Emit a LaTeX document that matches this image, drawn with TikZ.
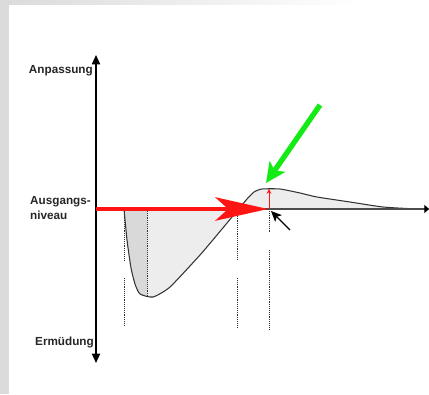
\documentclass[tikz,border=0pt]{standalone}
\usepackage{fontspec}
\setmainfont{Liberation Sans}
\usetikzlibrary{arrows.meta}
\definecolor{brightgreen}{RGB}{20,235,20}
\definecolor{brightred}{RGB}{255,20,20}
\begin{document}
\begin{tikzpicture}[x=0.03cm,y=-0.03cm,
  lbl/.style={font=\bfseries\fontsize{10}{12}\selectfont, text=black!85, inner sep=0pt},
  curveline/.style={black!80, line width=0.9pt, line join=round},
  guide/.style={densely dotted, line width=0.6pt, black!80},
  axis/.style={line width=1.2pt, black},
]
\useasboundingbox (0,0) rectangle (429,394);
\fill[white] (0,0) rectangle (429,394);
\fill[gray!28] (0,0) rectangle (9,394);
\shade[left color=gray!28, right color=white] (9,0) rectangle (360,5);

\def\curvepts{(124,209) (127,240) (131,268) (135,284) (140,294) (153,297) (170,287) (200,255) (217,235) (237,211) (247,199) (254,192) (262,189) (280,189) (300,193) (317,197) (350,202) (383,207) (417,209) (429,209)}

% fills
\fill[gray!14] plot[smooth, tension=0.35] coordinates {\curvepts} -- cycle;
\begin{scope}
  \clip (124,205) rectangle (147,300);
  \fill[gray!30] plot[smooth, tension=0.35] coordinates {\curvepts} -- cycle;
\end{scope}

% dotted guides
\draw[guide] (124,209) -- (124,260) (124,278) -- (124,325);
\draw[guide] (147,209) -- (147,297);
\draw[guide] (237,212) -- (237,260) (237,278) -- (237,328);
\draw[guide] (269,209) -- (269,232) (269,250) -- (269,330);

% curve
\draw[curveline] plot[smooth, tension=0.35] coordinates {\curvepts};

% axes
\coordinate (O) at (96,209);
\coordinate (top) at (96,55);
\coordinate (bot) at (96,363);
\coordinate (right) at (429,209);
\draw[axis, {Triangle[length=8pt,width=7pt]}-{Triangle[length=8pt,width=7pt]}] (bot) -- (top);
\draw[line width=1.3pt, gray!60!black, -{Triangle[length=4pt,width=7pt,black]}] (O) -- (right);

% red arrow
\coordinate (redtip) at (268,209);
\draw[brightred, line width=3.5pt, -{Stealth[length=45pt, width=20pt, inset=11pt]}] (O) -- (redtip);

% small red arrow
\coordinate (peak) at (269,189);
\coordinate (base) at (269,209);
\draw[brightred, line width=0.8pt, -{Stealth[length=4pt,width=4pt]}] (base) -- (peak);

% green arrow
\coordinate (gstart) at (320,105);
\coordinate (gtip) at (266,183);
\draw[brightgreen, line width=4.5pt, -{Stealth[length=17pt, width=16pt, inset=4pt]}] (gstart) -- (gtip);

% black arrow
\coordinate (bstart) at (290,230);
\coordinate (btip) at (271,211);
\draw[black, line width=1pt, -{Stealth[length=9pt,width=8pt,inset=2pt]}] (bstart) -- (btip);

% labels
\node[lbl, anchor=east] (anp) at (93,71) {Anpassung};
\node[lbl, align=left, anchor=west] (aus) at (30,208) {Ausgangs-\\niveau};
\node[lbl, anchor=east] (erm) at (94,342) {Ermüdung};
\end{tikzpicture}
\end{document}
